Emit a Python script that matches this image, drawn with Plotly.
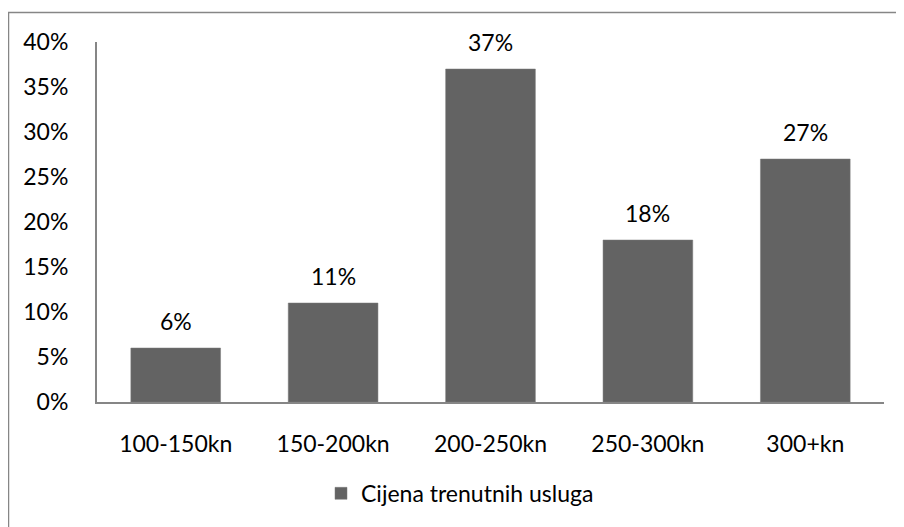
import plotly.graph_objects as go

categories = ["100-150kn", "150-200kn", "200-250kn", "250-300kn", "300+kn"]
values = [0.06, 0.11, 0.37, 0.18, 0.27]
series_name = "Cijena trenutnih usluga"

W, H = 904, 527
OFF = 8  # page body margin
# target positions in the screenshot
AX_L, AX_R, AX_T, AX_B = 97, 884, 42, 402.5
L = AX_L - OFF
T = AX_T - OFF
R = W - (AX_R - OFF)
B = H - (AX_B - OFF)
PW = W - L - R
PH = H - T - B
FONT = "Lato"
FS = 23

def px_x(x):
    return (x - OFF - L) / PW

def px_y(y):
    return 1 - (y - OFF - T) / PH

fig = go.Figure()
fig.add_trace(go.Bar(
    x=categories, y=values, name=series_name,
    marker=dict(color="#636363", line=dict(color="#7a7a7a", width=0.5)),
    width=0.57, showlegend=True,
))

for c, v in zip(categories, values):
    fig.add_annotation(x=c, y=v, text=f"{round(v*100)}%", showarrow=False,
                       yanchor="bottom", yshift=11,
                       font=dict(family=FONT, size=FS, color="#000"))

fig.update_layout(
    width=W, height=H,
    margin=dict(l=L, r=R, t=T, b=B),
    paper_bgcolor="white", plot_bgcolor="white",
    font=dict(family=FONT, size=FS, color="#000"),
    showlegend=True,
    legend=dict(orientation="h", x=px_x(460), xanchor="center",
                y=px_y(494), yanchor="middle",
                font=dict(family=FONT, size=FS, color="#000"),
                itemwidth=30),
    xaxis=dict(showline=True, linecolor="#868686", linewidth=2, ticks="",
               showgrid=False, tickfont=dict(size=FS), ticklabelstandoff=20),
    yaxis=dict(range=[0, 0.4], dtick=0.05, tickformat=".0%", showline=True,
               linecolor="#868686", linewidth=2, ticks="", showgrid=False,
               zeroline=False, ticklabelstandoff=22, tickfont=dict(size=FS)),
    shapes=[dict(type="rect", xref="paper", yref="paper",
                 x0=px_x(8.5), x1=px_x(W + 20),
                 y0=px_y(H + 20), y1=px_y(12.5),
                 line=dict(color="#868686", width=1.5), layer="below")],
)

fig.write_html("out.html")
